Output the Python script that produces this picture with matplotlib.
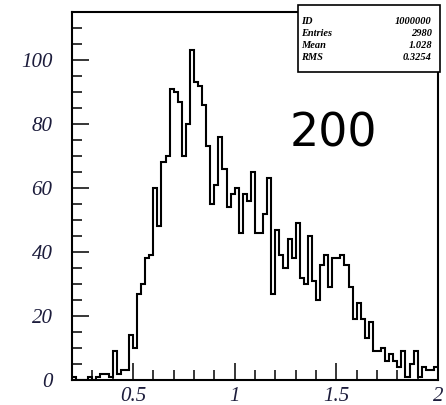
import matplotlib

matplotlib.use("Agg")
import matplotlib.pyplot as plt
import numpy as np
from matplotlib.patches import Rectangle
from matplotlib.ticker import MultipleLocator

# histogram: 90 bins of 0.02 between 0.2 and 2.0
X_LOW, X_HIGH, N_BINS = 0.2, 2.0, 90
counts = [
    1, 0, 0, 0, 1, 0, 1, 2, 2, 1,
    9, 2, 3, 3, 14, 10, 27, 30, 38, 39,
    60, 48, 68, 70, 91, 90, 87, 70, 80, 103,
    93, 92, 86, 73, 55, 61, 76, 66, 54, 58,
    60, 46, 58, 56, 65, 46, 46, 52, 63, 27,
    47, 39, 35, 44, 38, 49, 32, 30, 45, 31,
    25, 36, 39, 29, 38, 38, 39, 36, 29, 19,
    24, 19, 13, 18, 9, 9, 10, 6, 8, 6,
    4, 9, 1, 5, 9, 1, 4, 3, 3, 4,
]
stat_names = ["ID", "Entries", "Mean", "RMS"]
stat_values = ["1000000", "2980", "1.028", "0.3254"]
x_ticks = [0.5, 1, 1.5, 2]
x_tick_labels = ["0.5", "1", "1.5", "2"]
y_ticks = [0, 20, 40, 60, 80, 100]

LABEL_COLOR = "#1d1d3c"


def main() -> None:
    fig = plt.figure(figsize=(4.46, 4.05), dpi=100)
    ax = fig.add_axes([72 / 446, 25 / 405, 366 / 446, 368 / 405])

    edges = np.linspace(X_LOW, X_HIGH, N_BINS + 1)
    ax.stairs(counts, edges, color="black", linewidth=1.5, baseline=None)

    ax.set_xlim(X_LOW, X_HIGH)
    ax.set_ylim(0, 115)

    ax.set_xticks(x_ticks)
    ax.set_xticklabels(x_tick_labels)
    ax.set_yticks(y_ticks)
    ax.xaxis.set_minor_locator(MultipleLocator(0.1))
    ax.yaxis.set_minor_locator(MultipleLocator(5))
    ax.tick_params(which="both", direction="in", top=False, right=False,
                   width=1.1, color="black")
    ax.tick_params(which="major", length=12)
    ax.tick_params(which="minor", length=7)
    ax.tick_params(axis="y", which="major", pad=14)
    ax.tick_params(axis="x", which="major", pad=5)
    for lab in ax.get_xticklabels() + ax.get_yticklabels():
        lab.set_fontfamily("Liberation Serif")
        lab.set_fontstyle("italic")
        lab.set_fontsize(15)
        lab.set_color(LABEL_COLOR)
    for spine in ax.spines.values():
        spine.set_linewidth(1.5)

    ax.text(0.713, 0.668, "200", transform=ax.transAxes, fontsize=33,
            family="DejaVu Sans", ha="center", va="center", color="black")

    # statistics box in the top right corner
    x0, y0, x1, y1 = 298 / 446, 1 - 72 / 405, 440 / 446, 1 - 5 / 405
    fig.patches.append(Rectangle((x0, y0), x1 - x0, y1 - y0, transform=fig.transFigure,
                                 facecolor="white", edgecolor="black", linewidth=1.2))
    for row, (name, value) in enumerate(zip(stat_names, stat_values)):
        y = 1 - (21 + row * 12) / 405
        fig.text(x0 + 3 / 446, y, name, fontsize=7.5, family="Liberation Serif",
                 style="italic", weight="bold", va="center", ha="left")
        fig.text(x1 - 8 / 446, y, value, fontsize=7.5, family="Liberation Serif",
                 style="italic", weight="bold", va="center", ha="right")

    fig.savefig("out.png", dpi=100)
    plt.close(fig)


if __name__ == "__main__":
    main()
